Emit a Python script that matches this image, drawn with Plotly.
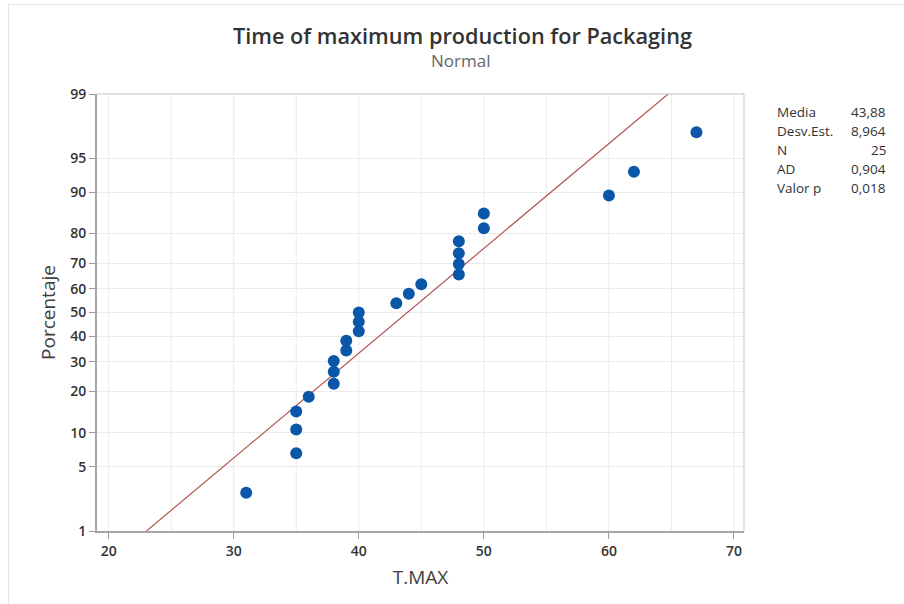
from statistics import NormalDist, mean, stdev
import plotly.graph_objects as go

# T.MAX observations (sorted)
t_max = [31, 35, 35, 35, 36, 38, 38, 38, 39, 39, 40, 40, 40,
         43, 44, 45, 48, 48, 48, 48, 50, 50, 60, 62, 67]

# Percent ticks on the normal-probability axis
pct_ticks = [1, 5, 10, 20, 30, 40, 50, 60, 70, 80, 90, 95, 99]
x_ticks = [20, 30, 40, 50, 60, 70]

stat_labels = ["Media", "Desv.Est.", "N", "AD", "Valor p"]
stat_values = ["43,88", "8,964", "25", "0,904", "0,018"]

nd = NormalDist()
n = len(t_max)
mu = mean(t_max)
sd = stdev(t_max)

# median-rank plotting positions, mapped to standard normal quantiles
ranks = range(1, n + 1)
probs = [(i - 0.3) / (n + 0.4) for i in ranks]
z_pts = [nd.inv_cdf(p) for p in probs]

# fitted normal line
z_line = [-3.5, 3.5]
x_line = [mu + sd * z for z in z_line]

W, H = 904, 604
ML, MR, MT, MB = 97, 160, 94, 73
PW, PH = W - ML - MR, H - MT - MB


def px(x):
    return (x - ML) / PW


def py(y):
    return 1 - (y - MT) / PH


FONT = "Open Sans, Noto Sans, sans-serif"

fig = go.Figure()
fig.add_trace(go.Scatter(
    x=x_line, y=z_line, mode="lines",
    line=dict(color="#b5524f", width=1.2), hoverinfo="skip"))
fig.add_trace(go.Scatter(
    x=t_max, y=z_pts, mode="markers",
    marker=dict(color="#0a56a8", size=12, line=dict(width=0)),
    cliponaxis=False))

z_lo, z_hi = nd.inv_cdf(0.01), nd.inv_cdf(0.99)

tick_font = dict(size=14, color="#333333", weight=600)

fig.update_layout(
    width=W, height=H,
    margin=dict(l=ML, r=MR, t=MT, b=MB),
    paper_bgcolor="white", plot_bgcolor="white",
    showlegend=False,
    font=dict(family=FONT, color="#333333", size=14),
    xaxis=dict(
        range=[19.07, 70.8], tickvals=x_ticks,
        ticks="outside", ticklen=6, tickcolor="#999999", tickwidth=1,
        showline=True, linecolor="#a6a6a6", linewidth=2,
        showgrid=False, zeroline=False,
        tickfont=tick_font,
        title=dict(text="T.MAX", font=dict(size=19, color="#404040"), standoff=12),
    ),
    yaxis=dict(
        range=[z_lo, z_hi],
        tickvals=[nd.inv_cdf(p / 100) for p in pct_ticks],
        ticktext=[str(p) for p in pct_ticks],
        ticks="outside", ticklen=6, tickcolor="#999999", tickwidth=1,
        showline=True, linecolor="#a6a6a6", linewidth=2,
        showgrid=True, gridcolor="#ebebeb", gridwidth=1,
        zeroline=False,
        tickfont=tick_font,
        title=dict(text="Porcentaje", font=dict(size=19, color="#404040"), standoff=10),
    ),
)

# vertical grid every 5 units
shapes = []
for g in range(20, 71, 5):
    shapes.append(dict(type="line", xref="x", yref="paper", x0=g, x1=g, y0=0, y1=1,
                       line=dict(color="#ebebeb", width=1), layer="below"))
# top and right frame lines
shapes.append(dict(type="line", xref="paper", yref="paper", x0=0, x1=1, y0=1, y1=1,
                   line=dict(color="#c4c4c4", width=1)))
shapes.append(dict(type="line", xref="paper", yref="paper", x0=1, x1=1, y0=0, y1=1,
                   line=dict(color="#c4c4c4", width=1)))
# outer frame
shapes.append(dict(type="rect", xref="paper", yref="paper",
                   x0=px(8.5), x1=px(W + 5), y0=py(4.5), y1=py(H + 5),
                   line=dict(color="#e3e3e3", width=1)))
fig.update_layout(shapes=shapes)

ann = [
    dict(text="Time of maximum production for Packaging", x=px(462), y=py(35),
         font=dict(size=21.7, color="#333333", weight=600)),
    dict(text="Normal", x=px(461), y=py(60), font=dict(size=17, color="#666666")),
]
for k, (lab, val) in enumerate(zip(stat_labels, stat_values)):
    yy = py(112 + 19 * k)
    ann.append(dict(text=lab, x=px(775), y=yy, xanchor="left",
                    font=dict(size=13.5, color="#333333")))
    ann.append(dict(text=val, x=px(888), y=yy, xanchor="right",
                    font=dict(size=13.5, color="#333333")))
for a in ann:
    a.setdefault("xanchor", "center")
    a.update(xref="paper", yref="paper", yanchor="middle", showarrow=False)
fig.update_layout(annotations=ann)

fig.write_html("out.html")
